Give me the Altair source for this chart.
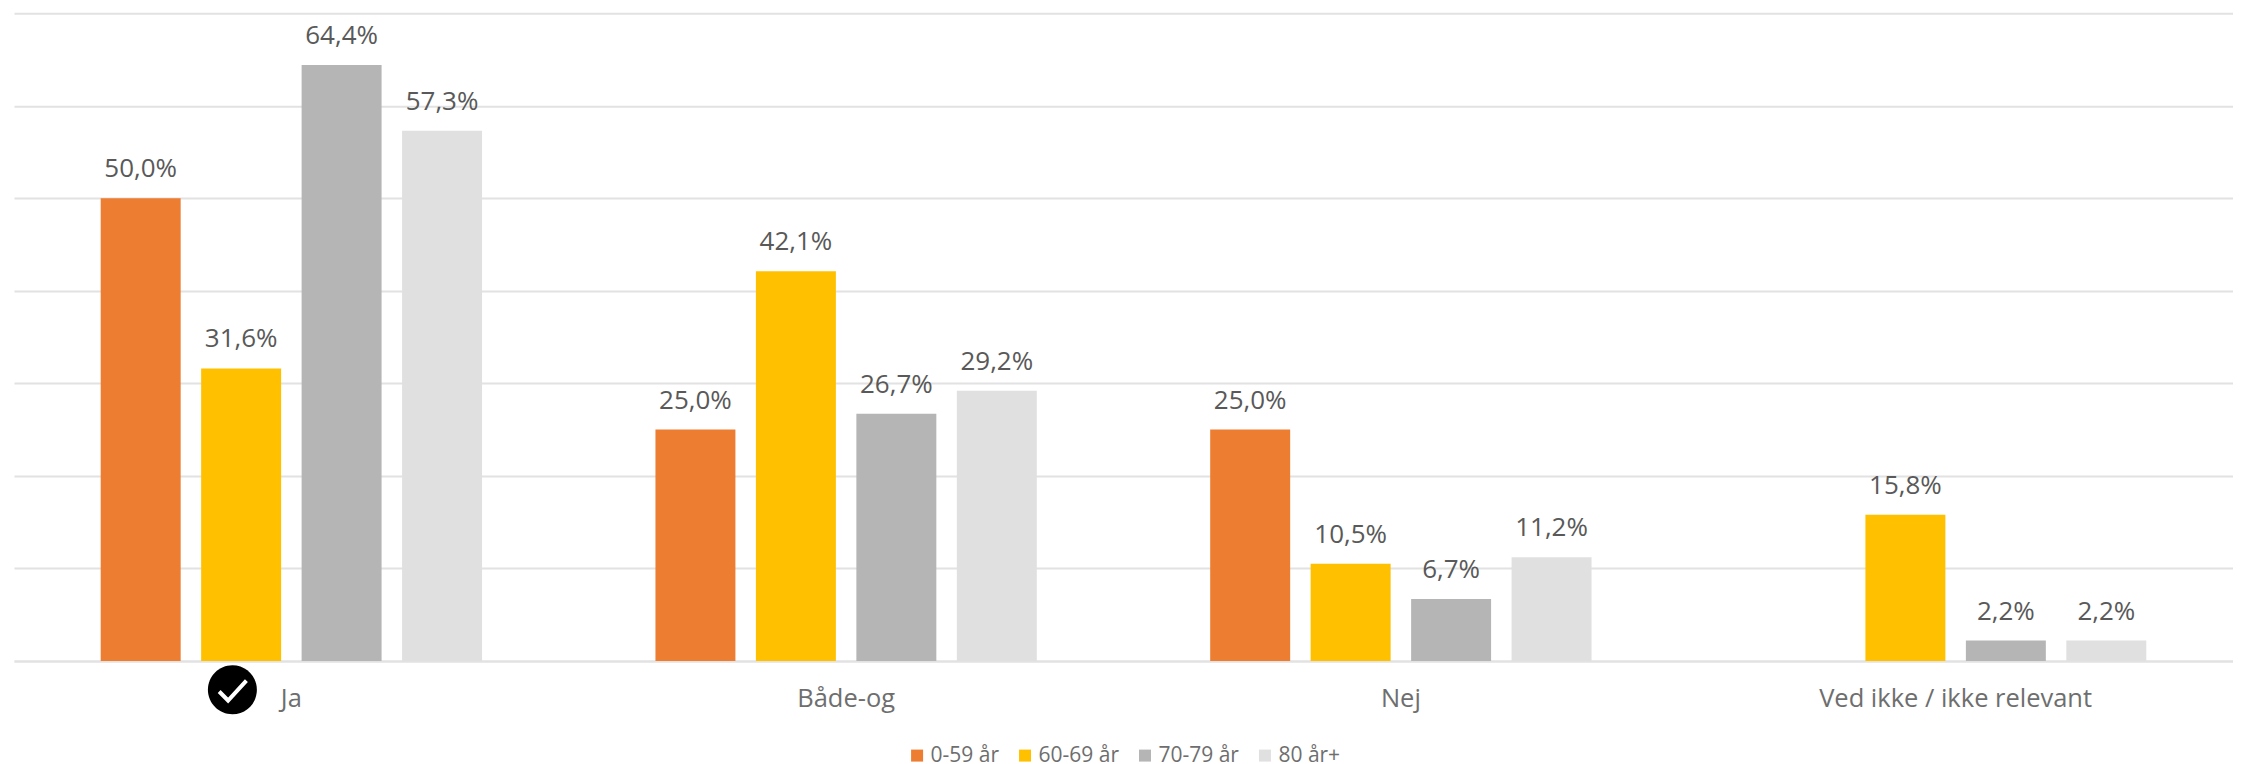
import altair as alt
import pandas as pd

categories = ["Ja", "Både-og", "Nej", "Ved ikke / ikke relevant"]
series = ["0-59 år", "60-69 år", "70-79 år", "80 år+"]
colors = ["#ED7D31", "#FFC000", "#B5B5B5", "#E0E0E0"]
values_0_59 = [50.0, 25.0, 25.0, None]
values_60_69 = [31.6, 42.1, 10.5, 15.8]
values_70_79 = [64.4, 26.7, 6.7, 2.2]
values_80 = [57.3, 29.2, 11.2, 2.2]
y_ticks = [0, 10, 20, 30, 40, 50, 60, 70]

FONT = "Open Sans"

rows = []
for s, vals in zip(series, [values_0_59, values_60_69, values_70_79, values_80]):
    for c, v in zip(categories, vals):
        if v is not None:
            rows.append({"cat": c, "serie": s, "val": v,
                         "label": f"{v:.1f}%".replace(".", ",")})
df = pd.DataFrame(rows)

x = alt.X("cat:N", sort=categories, scale=alt.Scale(domain=categories, paddingInner=0, paddingOuter=0),
          axis=alt.Axis(title=None, ticks=False, labelAngle=0, labelFont=FONT, labelFontSize=25.5,
                        labelColor="#6E6E6E", labelPadding=26, domainColor="#E2E2E2", labelLimit=600,
                        domainWidth=2, grid=False))
y = alt.Y("val:Q", scale=alt.Scale(domain=[0, 70], nice=False, clamp=False),
          axis=alt.Axis(title=None, values=y_ticks, labels=False, ticks=False, domain=False,
                        grid=True, gridColor="#E2E2E2", gridWidth=2))
xoff = alt.XOffset("serie:N", sort=series,
                   scale=alt.Scale(domain=series, paddingInner=0.204, paddingOuter=0.863))

bars = alt.Chart(df).mark_bar().encode(
    x=x, y=y, xOffset=xoff,
    color=alt.Color("serie:N", sort=series, scale=alt.Scale(domain=series, range=colors),
                    legend=alt.Legend(title=None, orient="none", legendX=893, legendY=732,
                                      direction="horizontal", columns=4, symbolType="square",
                                      symbolSize=144, symbolStrokeWidth=0, labelFont=FONT,
                                      labelFontSize=21, labelColor="#6E6E6E", columnPadding=15,
                                      labelOffset=3, gridAlign="each")),
)

labels = alt.Chart(df).mark_text(font=FONT, fontSize=26, color="#595959", baseline="alphabetic",
                                 dy=-21).encode(
    x=x, y=y, xOffset=xoff, text="label:N")

icon_df = pd.DataFrame({"cat": ["Ja"], "val": [-3.13]})
ellipse = alt.Chart(icon_df).mark_point(
    shape="M0,-0.5A0.5,0.5 0 1,1 0,0.5A0.5,0.5 0 1,1 0,-0.5Z",
    filled=True, fill="#000000", stroke=None, opacity=1, size=9604, xOffset=-59, clip=False,
).encode(x=alt.X("cat:N", sort=categories), y=alt.Y("val:Q"))
check = alt.Chart(icon_df).mark_point(
    shape="M-0.27,0.034L-0.088,0.218L0.286,-0.19",
    filled=False, stroke="#FFFFFF", strokeWidth=4, opacity=1, size=9604, xOffset=-59, clip=False,
).encode(x=alt.X("cat:N", sort=categories), y=alt.Y("val:Q"))

chart = (alt.layer(bars, labels, ellipse, check)
         .properties(width=2220, height=648, padding={"left": 6, "top": 5, "right": 0, "bottom": 10},
                     background="#FFFFFF")
         .configure_view(stroke=None))

chart.save("out.html", embed_options={"renderer": "svg", "actions": False})
